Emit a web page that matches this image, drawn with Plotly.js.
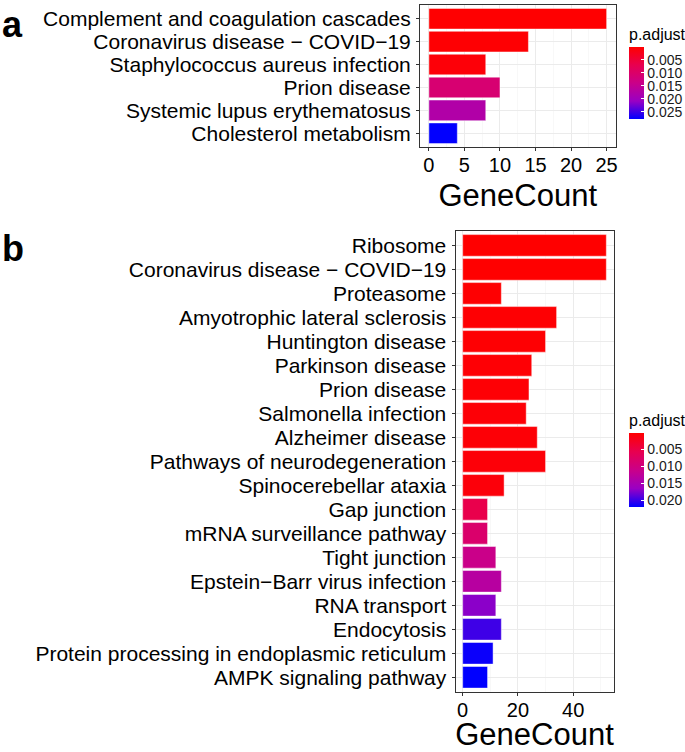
<!DOCTYPE html>
<html>
<head>
<meta charset="utf-8">
<script src="https://cdn.plot.ly/plotly-3.0.1.min.js"></script>
<style>
  html, body { margin: 0; padding: 0; background: white; }
  #chart { width: 685px; height: 752px; }
</style>
</head>
<body>
<div id="chart"></div>
<script>
// Panel a: KEGG terms (top to bottom), gene counts and adjusted p-values
const termsA = [
  'Complement and coagulation cascades',
  'Coronavirus disease \u2212 COVID\u221219',
  'Staphylococcus aureus infection',
  'Prion disease',
  'Systemic lupus erythematosus',
  'Cholesterol metabolism'
];
const countA = [25, 14, 8, 10, 8, 4];
const padjA = [0.0002, 0.0004, 0.0008, 0.011, 0.0175, 0.0276];
const ticksA = [0.005, 0.010, 0.015, 0.020, 0.025];

// Panel b
const termsB = [
  'Ribosome',
  'Coronavirus disease \u2212 COVID\u221219',
  'Proteasome',
  'Amyotrophic lateral sclerosis',
  'Huntington disease',
  'Parkinson disease',
  'Prion disease',
  'Salmonella infection',
  'Alzheimer disease',
  'Pathways of neurodegeneration',
  'Spinocerebellar ataxia',
  'Gap junction',
  'mRNA surveillance pathway',
  'Tight junction',
  'Epstein\u2212Barr virus infection',
  'RNA transport',
  'Endocytosis',
  'Protein processing in endoplasmic reticulum',
  'AMPK signaling pathway'
];
const countB = [52, 52, 14, 34, 30, 25, 24, 23, 27, 30, 15, 9, 9, 12, 14, 12, 14, 11, 9];
const padjB = [0.0002, 0.0002, 0.0003, 0.0004, 0.0004, 0.0005, 0.0005, 0.0006, 0.0006, 0.0007, 0.0009,
  0.0054, 0.0082, 0.011, 0.0132, 0.017, 0.0197, 0.0215, 0.0219];
const ticksB = [0.005, 0.010, 0.015, 0.020];

const W = 685, H = 752;
const FONT = 'Liberation Sans, Arial, Helvetica, sans-serif';

// red -> blue, interpolated like ggplot (Lab space), stored low value = top (red)
const scale = [
  [0, '#0000FF'],
  [0.25, 'rgb(154,0,195)'],
  [0.5, 'rgb(202,0,137)'],
  [0.75, 'rgb(232,0,79)'],
  [1, '#FF0000']
];

const px = (a, b) => [a / W, b / W];
const py = (top, bottom) => [1 - bottom / H, 1 - top / H];

// len in plotly counts the title too (~21px), so the bar starts under topPx
function colorbar(topPx, lenPx, ticks) {
  return {
    x: 629 / W, xanchor: 'left', xpad: 0,
    y: 1 - topPx / H, yanchor: 'top', ypad: 0,
    thickness: 15, thicknessmode: 'pixels',
    len: lenPx, lenmode: 'pixels',
    outlinewidth: 0,
    ticks: 'inside', ticklen: 3, tickcolor: 'white', tickwidth: 1,
    tickvals: ticks.map(t => -t),
    ticktext: ticks.map(t => t.toFixed(3)),
    tickfont: { family: FONT, size: 14, color: '#1a1a1a' },
    title: { text: 'p.adjust', side: 'top', font: { family: FONT, size: 16, color: 'black' } }
  };
}

const traces = [
  {
    type: 'bar', orientation: 'h',
    x: countA, y: termsA,
    xaxis: 'x', yaxis: 'y',
    width: 0.9,
    marker: { color: padjA.map(p => -p), coloraxis: 'coloraxis',
              line: { color: 'rgba(255,255,255,0.45)', width: 1 } },
    hoverinfo: 'x+y'
  },
  {
    type: 'bar', orientation: 'h',
    x: countB, y: termsB,
    xaxis: 'x2', yaxis: 'y2',
    width: 0.9,
    marker: { color: padjB.map(p => -p), coloraxis: 'coloraxis2',
              line: { color: 'rgba(255,255,255,0.45)', width: 1 } },
    hoverinfo: 'x+y'
  }
];

const gridCol = '#EBEBEB';
function xAxis(domain, range, dtick, anchor) {
  return {
    domain: domain, range: range, anchor: anchor,
    tick0: 0, dtick: dtick,
    showgrid: true, gridcolor: gridCol, gridwidth: 1,
    minor: { dtick: dtick / 2, tick0: 0, showgrid: true, gridcolor: '#F4F4F4', gridwidth: 0.6, ticks: '' },
    zeroline: false,
    showline: true, mirror: true, linecolor: '#333333', linewidth: 1,
    ticks: 'outside', ticklen: 3, tickcolor: '#333333', tickwidth: 1,
    ticklabelstandoff: -3,
    tickfont: { family: FONT, size: 20, color: 'black' },
    title: { text: 'GeneCount', font: { family: FONT, size: 31, color: 'black' }, standoff: 9 },
    automargin: false,
    fixedrange: true
  };
}
function yAxis(domain, terms, anchor) {
  return {
    domain: domain, anchor: anchor,
    type: 'category',
    range: [terms.length - 1 + 0.6, -0.6],
    tickmode: 'array', tickvals: terms, ticktext: terms,
    showgrid: true, gridcolor: gridCol, gridwidth: 1,
    zeroline: false,
    showline: true, mirror: true, linecolor: '#333333', linewidth: 1,
    ticks: 'outside', ticklen: 3, tickcolor: '#333333', tickwidth: 1,
    ticklabelstandoff: 1,
    tickfont: { family: FONT, size: 21, color: 'black' },
    automargin: false,
    fixedrange: true
  };
}

const layout = {
  width: W, height: H,
  margin: { l: 0, r: 0, t: 0, b: 0, autoexpand: false },
  paper_bgcolor: 'white', plot_bgcolor: 'white',
  showlegend: false,
  bargap: 0.1,
  font: { family: FONT, color: 'black' },
  xaxis: xAxis(px(420, 615.5), [-1.25, 26.25], 5, 'y'),
  yaxis: yAxis(py(5, 147), termsA, 'x'),
  xaxis2: xAxis(px(455.5, 613.5), [-2.6, 54.6], 20, 'y2'),
  yaxis2: yAxis(py(231, 691.7), termsB, 'x2'),
  coloraxis: {
    cmin: -0.0277, cmax: -0.0001, colorscale: scale,
    colorbar: colorbar(25, 94, ticksA)
  },
  coloraxis2: {
    cmin: -0.0219, cmax: -0.00018, colorscale: scale,
    colorbar: colorbar(411, 96, ticksB)
  },
  annotations: [
    { text: '<b>a</b>', xref: 'paper', yref: 'paper', x: 0, y: 1 - 2 / H,
      xanchor: 'left', yanchor: 'top', showarrow: false,
      font: { family: FONT, size: 36, color: 'black' } },
    { text: '<b>b</b>', xref: 'paper', yref: 'paper', x: 0, y: 1 - 226 / H,
      xanchor: 'left', yanchor: 'top', showarrow: false,
      font: { family: FONT, size: 36, color: 'black' } }
  ]
};

Plotly.newPlot('chart', traces, layout, { displayModeBar: false, staticPlot: true });
</script>
</body>
</html>
